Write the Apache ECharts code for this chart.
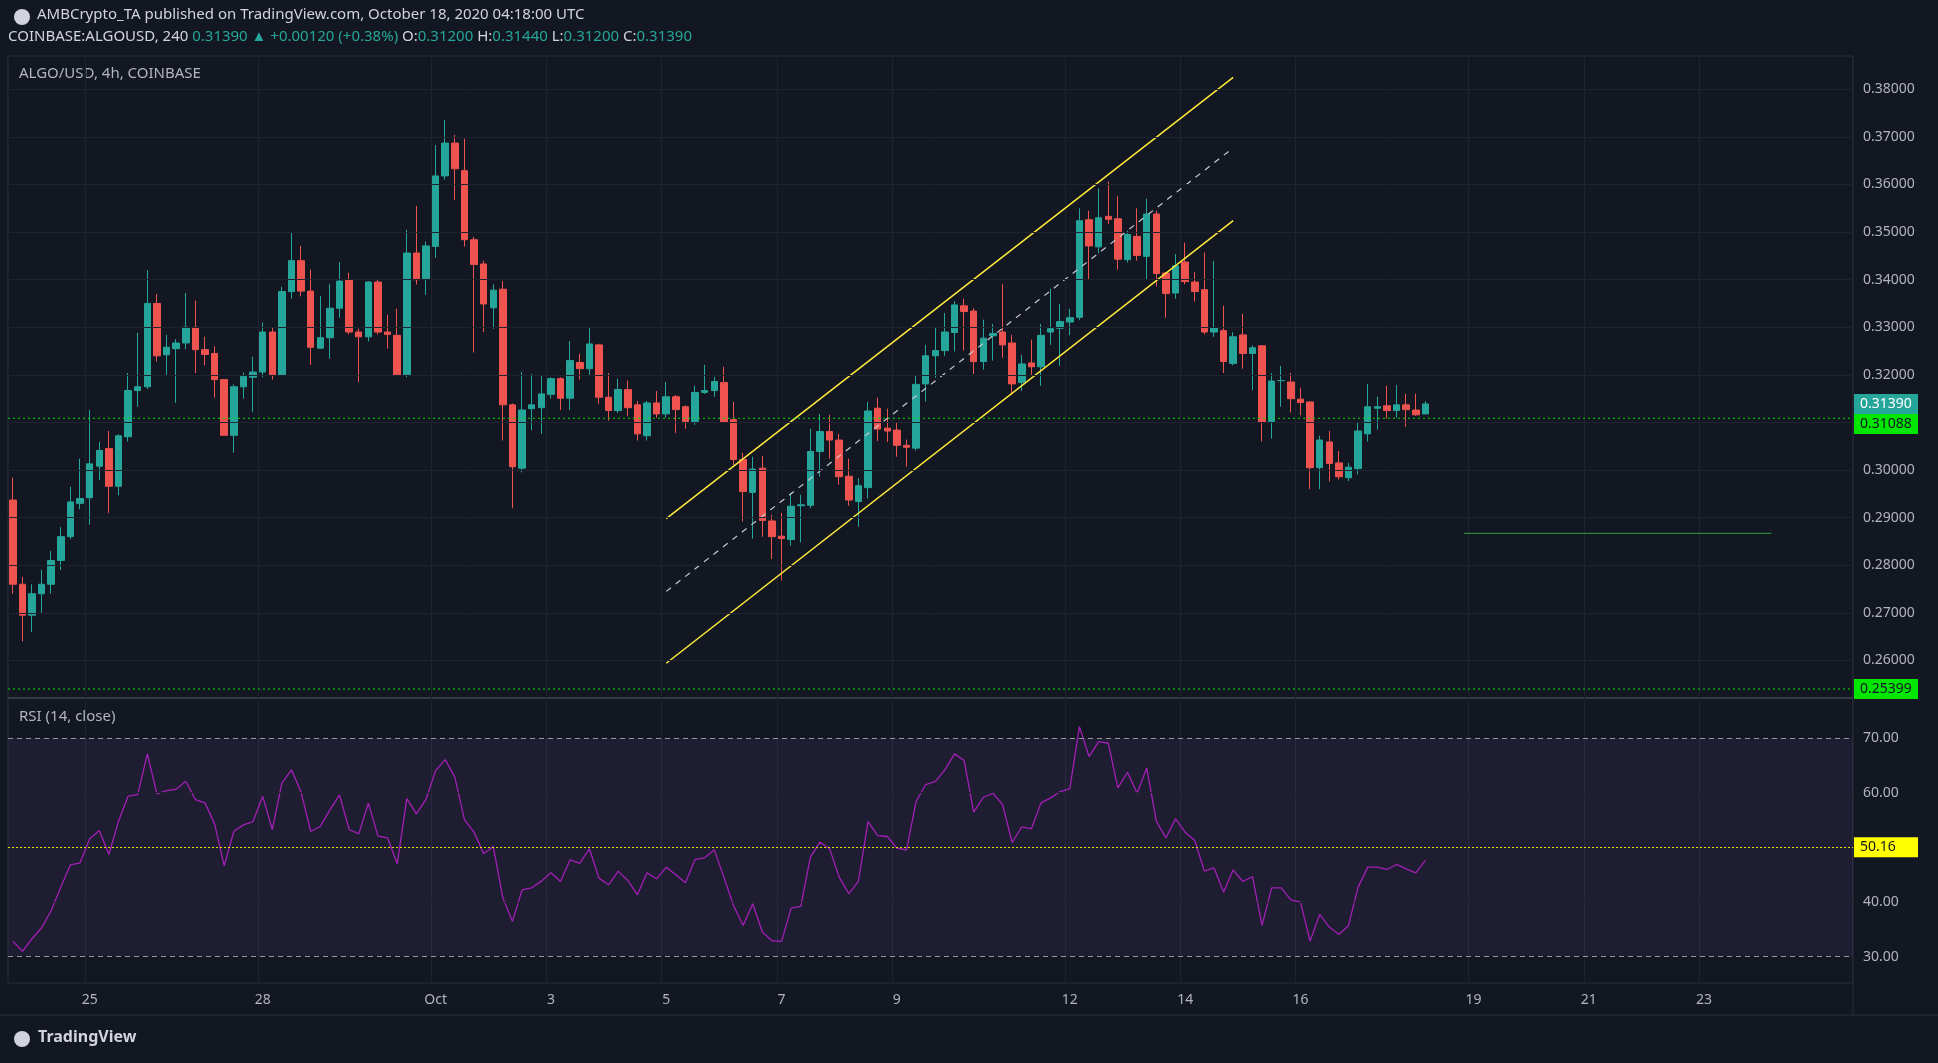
<!DOCTYPE html>
<html><head><meta charset="utf-8">
<script src="https://cdn.jsdelivr.net/npm/echarts@6/dist/echarts.min.js"></script>
<style>html,body{margin:0;padding:0;background:#131722;}#c{width:1938px;height:1063px;}</style>
</head><body><div id="c"></div>
<script>
const opens=[.2937,.2760,.2695,.2740,.2760,.2810,.2860,.2930,.2942,.3008,
.3045,.2966,.3070,.3167,.3175,.3350,.3242,.3255,.3267,.3300,
.3253,.3245,.3190,.3073,.3175,.3195,.3206,.3290,.3200,.3375,
.3440,.3376,.3256,.3278,.3340,.3400,.3290,.3280,.3395,.3290,
.3283,.3200,.3456,.3402,.3470,.3618,.3687,.3629,.3484,.3433,
.3341,.3380,.3137,.3004,.3129,.3131,.3159,.3192,.3151,.3226,
.3213,.3263,.3153,.3125,.3169,.3137,.3072,.3141,.3118,.3154,
.3133,.3102,.3163,.3167,.3184,.3106,.3022,.2953,.3004,.2893,
.2861,.2854,.2925,.2926,.3039,.3081,.3063,.2987,.2934,.2963,
.3130,.3088,.3084,.3052,.3046,.3181,.3240,.3251,.3289,.3345,
.3334,.3228,.3282,.3290,.3267,.3184,.3225,.3217,.3290,.3298,
.3311,.3321,.3526,.3469,.3533,.3528,.3442,.3491,.3449,.3538,
.3414,.3372,.3437,.3395,.3379,.3290,.3293,.3224,.3284,.3245,
.3261,.3102,.3188,.3185,.3149,.3143,.3005,.3059,.3015,.2984,
.3003,.3076,.3130,.3135,.3125,.3137,.3126,.3118];
const closes=[.2760,.2695,.2740,.2760,.2810,.2860,.2933,.2940,.3013,.3041,
.2966,.3072,.3167,.3175,.3350,.3240,.3258,.3267,.3300,.3253,
.3243,.3190,.3073,.3175,.3197,.3206,.3290,.3200,.3375,.3440,
.3376,.3258,.3278,.3340,.3397,.3290,.3280,.3395,.3290,.3285,
.3200,.3456,.3400,.3471,.3618,.3687,.3633,.3484,.3432,.3349,
.3378,.3137,.3007,.3126,.3137,.3160,.3192,.3151,.3230,.3213,
.3265,.3153,.3125,.3169,.3131,.3076,.3141,.3118,.3154,.3127,
.3102,.3163,.3167,.3186,.3101,.3022,.2955,.3002,.2894,.2860,
.2856,.2924,.2927,.3039,.3081,.3063,.2986,.2937,.2967,.3124,
.3086,.3082,.3052,.3048,.3180,.3240,.3251,.3290,.3347,.3333,
.3228,.3277,.3287,.3263,.3181,.3223,.3217,.3283,.3297,.3312,
.3320,.3524,.3471,.3530,.3527,.3443,.3495,.3451,.3538,.3413,
.3371,.3429,.3396,.3375,.3290,.3299,.3228,.3280,.3245,.3257,
.3100,.3187,.3188,.3150,.3142,.3005,.3063,.3014,.2986,.3006,
.3082,.3133,.3133,.3125,.3137,.3127,.3116,.3139];
const lows=[.2740,.2640,.2660,.2700,.2740,.2790,.2855,.2918,.2885,.2979,
.2910,.2947,.3060,.3133,.3170,.3228,.3200,.3141,.3254,.3204,
.3220,.3152,.3073,.3036,.3150,.3122,.3195,.3190,.3198,.3360,
.3365,.3221,.3255,.3234,.3320,.3285,.3185,.3270,.3285,.3255,
.3200,.3195,.3390,.3368,.3446,.3610,.3567,.3470,.3247,.3290,
.3297,.3062,.2920,.2995,.3084,.3076,.3150,.3126,.3126,.3190,
.3200,.3139,.3104,.3120,.3114,.3062,.3062,.3110,.3110,.3078,
.3087,.3095,.3160,.3154,.3100,.3010,.2892,.2856,.2860,.2813,
.2768,.2841,.2848,.2920,.2986,.3024,.2969,.2925,.2881,.2940,
.3061,.3059,.3028,.3007,.3041,.3144,.3194,.3240,.3249,.3251,
.3202,.3211,.3230,.3236,.3158,.3166,.3200,.3177,.3263,.3219,
.3283,.3315,.3400,.3455,.3517,.3421,.3436,.3440,.3400,.3386,
.3320,.3360,.3390,.3354,.3285,.3280,.3204,.3220,.3213,.3168,
.3060,.3066,.3133,.3121,.3115,.2960,.2960,.2976,.2980,.2977,
.2991,.3060,.3085,.3108,.3110,.3091,.3114,.3118];
const highs=[.2984,.2775,.2760,.2790,.2830,.2880,.2965,.3024,.3126,.3059,
.3082,.3075,.3204,.3288,.3420,.3370,.3284,.3275,.3372,.3356,
.3280,.3260,.3190,.3180,.3205,.3238,.3310,.3300,.3385,.3500,
.3471,.3421,.3366,.3391,.3437,.3415,.3297,.3397,.3400,.3326,
.3339,.3505,.3555,.3480,.3683,.3736,.3704,.3696,.3490,.3440,
.3390,.3397,.3140,.3206,.3202,.3197,.3195,.3195,.3271,.3244,
.3301,.3265,.3204,.3192,.3188,.3145,.3145,.3166,.3185,.3158,
.3136,.3177,.3221,.3196,.3217,.3143,.3036,.3028,.3030,.2906,
.2910,.2952,.2948,.3087,.3118,.3116,.3076,.3024,.2983,.3143,
.3152,.3129,.3099,.3064,.3200,.3263,.3301,.3330,.3355,.3360,
.3340,.3316,.3307,.3391,.3284,.3242,.3274,.3307,.3381,.3349,
.3339,.3550,.3545,.3592,.3606,.3576,.3503,.3550,.3570,.3545,
.3415,.3454,.3478,.3416,.3457,.3439,.3345,.3290,.3328,.3262,
.3262,.3204,.3219,.3204,.3173,.3145,.3072,.3082,.3040,.3015,
.3100,.3181,.3154,.3177,.3179,.3160,.3160,.3145];
const rsi=[32.86,30.98,33.29,35.30,38.46,42.73,46.80,47.17,51.55,53.08,
48.69,54.78,59.35,59.65,67.08,59.77,60.38,60.62,62.09,58.74,
58.13,54.29,46.62,52.89,54.11,54.72,59.35,53.26,61.72,64.16,
60.08,52.89,53.81,56.85,59.59,53.26,52.47,58.07,52.04,51.74,
46.99,58.92,56.12,58.80,64.03,66.04,62.82,55.02,52.77,48.81,
50.15,40.72,36.46,42.24,42.60,43.82,45.34,43.76,47.72,47.05,
49.73,44.37,43.15,45.65,43.94,41.33,45.34,44.25,46.38,44.98,
43.52,47.78,48.08,49.54,
44.55,39.38,35.72,39.68,34.51,32.92,32.80,38.89,39.19,48.20,
50.94,49.73,44.55,41.51,43.82,54.72,52.16,51.98,49.85,49.48,
58.37,61.48,62.02,64.16,67.08,65.86,56.42,59.16,59.89,57.82,
50.88,53.75,53.38,58.13,59.04,60.20,60.75,72.07,66.59,69.33,
69.03,60.87,63.73,59.89,64.52,54.78,51.74,55.21,52.77,51.25,
45.65,46.26,41.81,45.89,43.76,44.67,35.72,42.60,42.60,40.41,
39.99,32.86,37.73,35.42,34.08,35.72,42.73,46.38,46.38,45.95,
46.87,46.07,45.34,47.60];
const priceTicks=[0.26,0.27,0.28,0.29,0.30,0.31,0.32,0.33,0.34,0.35,0.36,0.37,0.38];
const rsiTicks=[30,40,50,60,70];
const dayLabels={'2020-09-25':'25','2020-09-28':'28','2020-10-01':'Oct','2020-10-03':'3','2020-10-05':'5','2020-10-07':'7','2020-10-09':'9','2020-10-12':'12','2020-10-14':'14','2020-10-16':'16','2020-10-19':'19','2020-10-21':'21','2020-10-23':'23'};
const channelUpper=[[68,0.2898],[127,0.3825]];
const channelMid=[[68,0.2745],[127,0.3677]];
const channelLower=[[68,0.2594],[127,0.3524]];
const targetLine=[[151,0.2867],[183,0.2867]];
const lastPrice=0.31390, levelA=0.31088, levelB=0.25399, rsiLevel=50, rsiLevelLabel='50.16';

const N=192;
const cats=[];
const t0=Date.UTC(2020,8,23,16);
for(let i=0;i<N;i++){const d=new Date(t0+i*4*3600e3);cats.push(d.toISOString().slice(0,13));}
const isLab=(i)=>{const c=cats[i];return c.slice(11,13)==='00'&&dayLabels[c.slice(0,10)]!==undefined;};
const candles=opens.map((o,i)=>[o,closes[i],lows[i],highs[i]]);

const grid='#2a2e39', txt='#b2b5be', F='"Noto Sans", Roboto, sans-serif';
const L=8, R=85;
const chart=echarts.init(document.getElementById('c'));
const gridLines=(ticks,gi)=>({type:'line',xAxisIndex:gi,yAxisIndex:gi,data:[],silent:true,
  markLine:{silent:true,symbol:'none',label:{show:false},lineStyle:{color:'#1f2330',type:'solid',width:1},data:ticks.map(v=>({yAxis:v}))}});
const baseGraphic=[
    {type:'circle',shape:{cx:22,cy:17,r:8},style:{fill:'#d1d4dc'}},
    {type:'text',left:37,top:7,style:{text:'AMBCrypto_TA published on TradingView.com, October 18, 2020 04:18:00 UTC',fill:'#d1d4dc',font:'15px '+F}},
    {type:'text',left:8,top:29,style:{rich:{w:{fill:'#d1d4dc',font:'15px '+F},g:{fill:'#26a69a',font:'15px '+F}},
      text:'{w|COINBASE:ALGOUSD, 240 }{g|0.31390 ▲ +0.00120 (+0.38%) }{w|O:}{g|0.31200 }{w|H:}{g|0.31440 }{w|L:}{g|0.31200 }{w|C:}{g|0.31390}'}},
    {type:'text',left:19,top:66,style:{text:'ALGO/USD, 4h, COINBASE',fill:'#b2b5be',font:'15px '+F}},
    {type:'text',left:19,top:709,style:{text:'RSI (14, close)',fill:'#b2b5be',font:'15px '+F}},
    {type:'rect',shape:{x:L,y:56,width:1938-L-R,height:927},style:{fill:'none',stroke:grid,lineWidth:1}},
    {type:'line',shape:{x1:L,y1:698,x2:1938-R,y2:698},style:{stroke:'#363a45',lineWidth:2}},
    {type:'line',shape:{x1:1938-R,y1:56,x2:1938-R,y2:1015},style:{stroke:grid,lineWidth:1}},
    {type:'line',shape:{x1:0,y1:1015,x2:1938,y2:1015},style:{stroke:grid,lineWidth:1}},
    {type:'circle',shape:{cx:22,cy:1039,r:8},style:{fill:'#d1d4dc'}},
    {type:'text',left:38,top:1029,style:{text:'TradingView',fill:'#d1d4dc',font:'bold 16px '+F}}
];
chart.setOption({
  backgroundColor:'#131722',animation:false,
  graphic:baseGraphic,
  grid:[{left:L,right:R,top:56,height:642},{left:L,right:R,top:698,height:285}],
  xAxis:[
    {type:'category',gridIndex:0,data:cats,boundaryGap:true,axisLine:{show:false},axisTick:{show:false},axisLabel:{show:false},
     splitLine:{show:true,interval:(i)=>isLab(i),lineStyle:{color:'#1f2330'}}},
    {type:'category',gridIndex:1,data:cats,boundaryGap:true,axisLine:{show:false},axisTick:{show:false},
     axisLabel:{interval:(i)=>isLab(i),formatter:(v)=>dayLabels[v.slice(0,10)],color:txt,fontSize:14,fontFamily:F,margin:10},
     splitLine:{show:true,interval:(i)=>isLab(i),lineStyle:{color:'#1f2330'}}}
  ],
  yAxis:[
    {type:'value',gridIndex:0,position:'right',min:0.2521,max:0.387,splitLine:{show:false},axisLine:{show:false},
     axisTick:{show:false,customValues:priceTicks},axisLabel:{customValues:priceTicks,formatter:(v)=>v.toFixed(5),color:txt,fontSize:14,fontFamily:F,margin:10}},
    {type:'value',gridIndex:1,position:'right',min:25.2,max:77.3,splitLine:{show:false},axisLine:{show:false},
     axisTick:{show:false,customValues:rsiTicks},axisLabel:{customValues:rsiTicks,formatter:(v)=>v.toFixed(2),color:txt,fontSize:14,fontFamily:F,margin:10}}
  ],
  series:[
    gridLines(priceTicks,0),
    gridLines([40,60],1),
    {type:'candlestick',xAxisIndex:0,yAxisIndex:0,data:candles,barWidth:7,
     itemStyle:{color:'#26a69a',color0:'#ef5350',borderColor:'#26a69a',borderColor0:'#ef5350',borderWidth:1}},
    {type:'line',xAxisIndex:0,yAxisIndex:0,data:channelUpper,symbol:'none',lineStyle:{color:'#ffeb3b',width:1.5},silent:true},
    {type:'line',xAxisIndex:0,yAxisIndex:0,data:channelLower,symbol:'none',lineStyle:{color:'#ffeb3b',width:1.5},silent:true},
    {type:'line',xAxisIndex:0,yAxisIndex:0,data:channelMid,symbol:'none',lineStyle:{color:'#c8cad0',width:1.2,type:[6,6]},silent:true},
    {type:'line',xAxisIndex:0,yAxisIndex:0,data:targetLine,symbol:'none',lineStyle:{color:'#2e9e3a',width:1},silent:true},
    {type:'line',xAxisIndex:1,yAxisIndex:1,data:rsi,symbol:'none',lineStyle:{color:'#a31fb5',width:1.3},
     markArea:{silent:true,itemStyle:{color:'rgba(126,87,194,0.1)'},data:[[{yAxis:30},{yAxis:70}]]},
     markLine:{silent:true,symbol:'none',label:{show:false},data:[
       {yAxis:70,lineStyle:{color:'#9598a1',type:[5,4],width:1}},
       {yAxis:30,lineStyle:{color:'#9598a1',type:[5,4],width:1}},
       {yAxis:rsiLevel,lineStyle:{color:'#e5e500',type:[2,2],width:1}}
     ]}}
  ]
});
// value tags and level lines on the price scales
const py=(gi,val)=>chart.convertToPixel({yAxisIndex:gi},val);
const tag=(y,text,bg,fg)=>({type:'group',x:1938-R+1,y:y-10,z:200,children:[
    {type:'rect',z:200,shape:{x:0,y:0,width:64,height:20},style:{fill:bg}},
    {type:'text',z:201,x:6,y:3,style:{text:text,fill:fg,font:'14px '+F}}]});
const level=(y,color)=>({type:'line',z:50,shape:{x1:L,y1:y,x2:1938-R,y2:y},style:{stroke:color,lineWidth:1,lineDash:[2,3]}});
const yA=py(0,levelA), yB=py(0,levelB), yP=py(0,lastPrice);
chart.setOption({graphic:baseGraphic.concat([
  level(yA,'#00e600'), level(yB,'#00e600'),
  tag(yB,levelB.toFixed(5),'#00e600','#131722'),
  tag(Math.max(yA,yP+20),levelA.toFixed(5),'#00e600','#131722'),
  tag(yP,lastPrice.toFixed(5),'#26a69a','#ffffff'),
  tag(py(1,rsiLevel),rsiLevelLabel,'#ffff00','#131722')
])});
</script></body></html>
